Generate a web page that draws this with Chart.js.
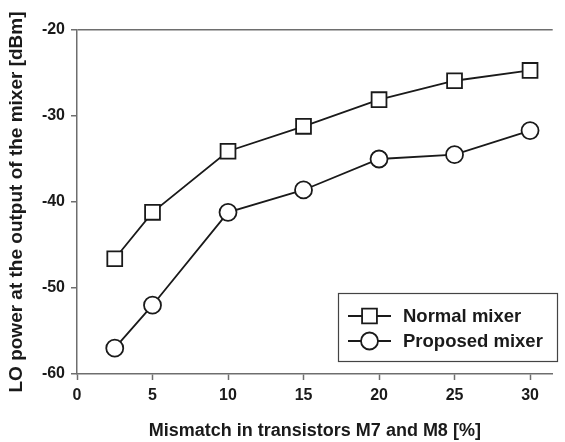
<!DOCTYPE html>
<html>
<head>
<meta charset="utf-8">
<script src="https://cdn.jsdelivr.net/npm/chart.js@4.4.1/dist/chart.umd.min.js"></script>
<style>
  html,body{margin:0;padding:0;background:#fff}
  #wrap{width:565px;height:442px;position:relative}
</style>
</head>
<body>
<div id="wrap"><canvas id="chartLO"></canvas></div>
<script>
// mismatch [%] and LO power [dBm]
const mismatch = [2.5, 5, 10, 15, 20, 25, 30];
const normalMixer = [-46.6, -41.2, -34.1, -31.2, -28.1, -25.9, -24.7];
const proposedMixer = [-57.0, -52.0, -41.2, -38.6, -35.0, -34.5, -31.7];
const xTicks = [0, 5, 10, 15, 20, 25, 30];
const yTicks = [-60, -50, -40, -30, -20];

const FONT = 'Liberation Sans, Arial, Helvetica, sans-serif';
const AXIS_GRAY = '#6e6e6e';

// legend box with line-through-marker samples
const boxLegend = {
  id: 'boxLegend',
  afterDraw(chart) {
    const ctx = chart.ctx;
    const x0 = 338, y0 = 293, w = 219, h = 68;
    ctx.save();
    ctx.fillStyle = '#fff';
    ctx.fillRect(x0, y0, w, h);
    ctx.strokeStyle = '#444';
    ctx.lineWidth = 1.2;
    ctx.strokeRect(x0 + 0.5, y0 + 0.5, w, h);
    chart.data.datasets.forEach((ds, i) => {
      const cy = y0 + 23 + i * 25;
      ctx.strokeStyle = '#1a1a1a';
      ctx.lineWidth = 1.8;
      ctx.beginPath(); ctx.moveTo(348, cy); ctx.lineTo(391, cy); ctx.stroke();
      ctx.fillStyle = '#fff';
      Chart.helpers.drawPoint(ctx, {pointStyle: ds.pointStyle, radius: ds.pointRadius, borderWidth: 1.8}, 369.5, cy);
      ctx.fillStyle = '#1a1a1a';
      ctx.font = 'bold 18.5px ' + FONT;
      ctx.textBaseline = 'middle';
      ctx.fillText(ds.label, 403, cy + 1);
    });
    ctx.restore();
  }
};

const c = document.getElementById('chartLO');
new Chart(c, {
  type: 'line',
  data: {
    datasets: [
      {label: 'Normal mixer', data: mismatch.map((m, i) => ({x: m, y: normalMixer[i]})),
        borderColor: '#1a1a1a', borderWidth: 1.8, pointStyle: 'rect', pointRadius: 10.5,
        pointBackgroundColor: '#fff', pointBorderColor: '#1a1a1a', pointBorderWidth: 1.8, tension: 0},
      {label: 'Proposed mixer', data: mismatch.map((m, i) => ({x: m, y: proposedMixer[i]})),
        borderColor: '#1a1a1a', borderWidth: 1.8, pointStyle: 'circle', pointRadius: 8.5,
        pointBackgroundColor: '#fff', pointBorderColor: '#1a1a1a', pointBorderWidth: 1.8, tension: 0}
    ]
  },
  options: {
    responsive: true, maintainAspectRatio: false, animation: false,
    layout: {padding: {top: 30, right: 5, left: 0, bottom: 0}},
    plugins: {legend: {display: false}, tooltip: {enabled: false}},
    scales: {
      x: {type: 'linear', min: 0, max: 31.5,
        afterBuildTicks: s => { s.ticks = xTicks.map(v => ({value: v})); },
        afterFit: s => { s.height = 68; },
        border: {color: AXIS_GRAY, width: 1.5},
        grid: {drawOnChartArea: false, tickLength: 6, color: AXIS_GRAY, tickWidth: 1.5},
        ticks: {padding: 6, color: '#1a1a1a', font: {family: FONT, size: 16, weight: 'bold'}},
        title: {display: true, text: 'Mismatch in transistors M7 and M8 [%]', color: '#1a1a1a',
          font: {family: FONT, size: 18, weight: 'bold'}, padding: {top: 6, bottom: 0}}},
      y: {min: -60, max: -20,
        afterBuildTicks: s => { s.ticks = yTicks.map(v => ({value: v})); },
        afterFit: s => { s.width = 77; },
        border: {color: AXIS_GRAY, width: 1.5},
        grid: {drawOnChartArea: true, tickLength: 6, tickWidth: 1.5, tickColor: AXIS_GRAY,
          lineWidth: 1.5, color: ctx => ctx.tick && ctx.tick.value === -20 ? AXIS_GRAY : 'rgba(0,0,0,0)'},
        ticks: {padding: 6, color: '#1a1a1a', font: {family: FONT, size: 16, weight: 'bold'}},
        title: {display: true, text: 'LO power at the output of the mixer [dBm]', color: '#1a1a1a',
          font: {family: FONT, size: 19, weight: 'bold'}, padding: {top: 5, bottom: 0}}}
    }
  },
  plugins: [boxLegend]
});
</script>
</body>
</html>
